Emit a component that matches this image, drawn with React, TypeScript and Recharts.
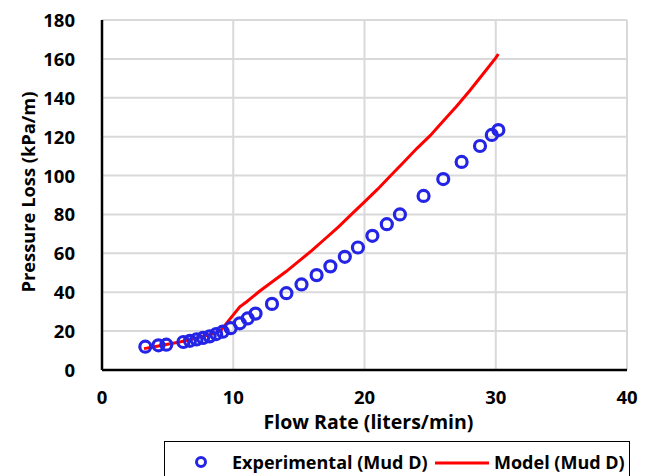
import { ComposedChart, Line, Scatter, XAxis, YAxis, CartesianGrid, Legend } from 'recharts';

// experimental readings (Mud D)
const expFlow = [3.3, 4.3, 4.9, 6.2, 6.7, 7.2, 7.7, 8.2, 8.7, 9.2, 9.8, 10.5, 11.1, 11.7, 12.95, 14.05, 15.2, 16.35, 17.4, 18.5, 19.5, 20.6, 21.7, 22.7, 24.5, 26.0, 27.4, 28.8, 29.7, 30.2];
const expLoss = [12, 12.7, 13, 14.4, 15, 15.7, 16.5, 17.3, 18.5, 19.7, 21.5, 24, 26.5, 29, 34, 39.5, 44, 48.8, 53.3, 58.2, 63, 69, 75, 80, 89.5, 98.2, 107, 115.2, 120.9, 123.4];

// model curve (Mud D)
const modelFlow = [3.2, 4, 5, 6, 7, 8, 9, 9.6, 10.5, 11, 12, 13, 14, 15, 16, 17, 18, 19, 20, 21, 22, 23, 24, 25, 26, 27, 28, 29, 30, 30.2];
const modelLoss = [11, 12, 13.2, 14.5, 16, 17.8, 19.8, 25, 32.5, 35, 40.5, 45.5, 50.5, 56, 61.5, 67.5, 73.5, 80, 86.5, 93, 100, 107, 114, 120.5, 128, 135.5, 143.5, 152, 160.5, 162.5];

const xTicks = [0, 10, 20, 30, 40];
const yTicks = [0, 20, 40, 60, 80, 100, 120, 140, 160, 180];

const expData = expFlow.map((x, i) => ({ x, y: expLoss[i] }));
const modelData = modelFlow.map((x, i) => ({ x, y: modelLoss[i] }));

const FONT = '"Open Sans", sans-serif';
const BLUE = '#2424E6';
const RED = '#FF0000';

const XTick = ({ x, y, payload }: any) => (
  <text x={x} y={y + 26} textAnchor="middle" fontFamily={FONT} fontWeight={700} fontSize={18.5} fill="#000">
    {payload.value}
  </text>
);

const YTick = ({ x, y, payload }: any) => (
  <text x={x - 19} y={y + 7} textAnchor="end" fontFamily={FONT} fontWeight={700} fontSize={18.5} fill="#000">
    {payload.value}
  </text>
);

const XTitle = ({ viewBox }: any) => (
  <text x={viewBox.x + viewBox.width / 2 + 4} y={429} textAnchor="middle" fontFamily={FONT} fontWeight={700} fontSize={19.5} fill="#000">
    Flow Rate (liters/min)
  </text>
);

const YTitle = ({ viewBox }: any) => {
  const cx = 35;
  const cy = viewBox.y + viewBox.height / 2 - 3;
  return (
    <text x={cx} y={cy} transform={`rotate(-90 ${cx} ${cy})`} textAnchor="middle" fontFamily={FONT} fontWeight={700} fontSize={18.3} fill="#000">
      Pressure Loss (kPa/m)
    </text>
  );
};

const Ring = (props: any) => (
  <circle cx={props.cx} cy={props.cy} r={5.5} fill="none" stroke={BLUE} strokeWidth={3.2} />
);

const LegendBox = () => (
  <div
    style={{
      position: 'absolute',
      left: 164,
      top: 441,
      width: 466,
      height: 40,
      border: '1.5px solid #000',
      boxSizing: 'border-box',
      fontFamily: FONT,
      fontWeight: 700,
      fontSize: 18,
      lineHeight: '22px',
      color: '#000',
    }}
  >
    <svg width={20} height={20} style={{ position: 'absolute', left: 26, top: 10 }}>
      <circle cx={10} cy={10} r={4.5} fill="none" stroke={BLUE} strokeWidth={3} />
    </svg>
    <span style={{ position: 'absolute', left: 67, top: 9, whiteSpace: 'nowrap' }}>Experimental (Mud D)</span>
    <svg width={56} height={6} style={{ position: 'absolute', left: 270, top: 18 }}>
      <line x1={0} y1={3} x2={54} y2={3} stroke={RED} strokeWidth={3} />
    </svg>
    <span style={{ position: 'absolute', left: 329, top: 9, whiteSpace: 'nowrap' }}>Model (Mud D)</span>
  </div>
);

export default function App() {
  return (
    <div style={{ position: 'absolute', left: 0, top: 0, width: 649, height: 476, background: '#fff', overflow: 'hidden' }}>
      <ComposedChart width={649} height={476} margin={{ top: 20, right: 22, bottom: 0, left: 0 }}>
        <CartesianGrid stroke="#d9d9d9" strokeWidth={2} />
        <XAxis
          type="number"
          dataKey="x"
          domain={[0, 40]}
          ticks={xTicks}
          height={106}
          axisLine={{ stroke: '#000', strokeWidth: 2.5 }}
          tickLine={false}
          tick={<XTick />}
          label={<XTitle />}
        />
        <XAxis xAxisId="top" orientation="top" type="number" domain={[0, 40]} ticks={xTicks} height={0} tick={false} tickLine={false} axisLine={{ stroke: '#000', strokeWidth: 2.5 }} />
        <YAxis
          type="number"
          dataKey="y"
          domain={[0, 180]}
          ticks={yTicks}
          width={102}
          axisLine={{ stroke: '#000', strokeWidth: 2.5 }}
          tickLine={false}
          tick={<YTick />}
          label={<YTitle />}
        />
        <YAxis yAxisId="right" orientation="right" type="number" domain={[0, 180]} ticks={yTicks} width={0} tick={false} tickLine={false} axisLine={{ stroke: '#000', strokeWidth: 2.5 }} />
        <Line data={modelData} dataKey="y" type="linear" stroke={RED} strokeWidth={3} dot={false} isAnimationActive={false} />
        <Scatter data={expData} dataKey="y" shape={<Ring />} isAnimationActive={false} />
        <Legend content={<LegendBox />} wrapperStyle={{ position: 'absolute', left: 0, top: 0, width: 0, height: 0 }} />
      </ComposedChart>
    </div>
  );
}
